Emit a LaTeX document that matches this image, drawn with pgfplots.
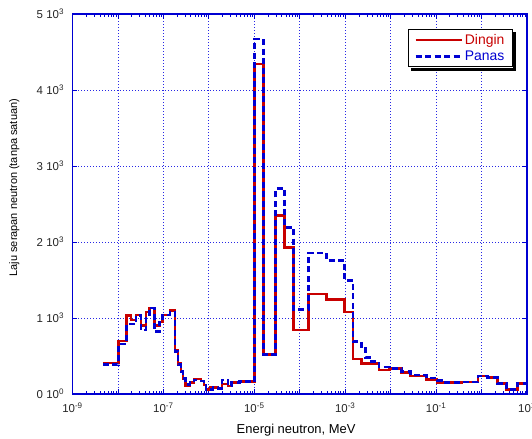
\documentclass[border=0pt]{standalone}
\usepackage{pgfplots}
\pgfplotsset{compat=1.18}
\usepackage{pgfplotstable}
\usepackage{fontspec}
\setmainfont{Liberation Sans}
\definecolor{myred}{RGB}{200,0,0}
\definecolor{myblue}{RGB}{0,0,210}
\definecolor{gridblue}{RGB}{40,40,230}

\pgfplotstableread{
L R B
-8.330 410 385
-7.993 700 660
-7.809 1030 920
-7.714 975 920
-7.604 1040 1030
-7.495 900 840
-7.385 1080 1040
-7.312 1130 1130
-7.202 900 820
-7.092 950 950
-7.018 1040 1040
-6.857 1100 1080
-6.747 570 560
-6.681 405 385
-6.615 295 295
-6.571 207 207
-6.512 115 125
-6.418 150 150
-6.330 195 185
-6.176 170 170
-6.110 119 119
-6.066 62 58
-5.978 88 60
-5.912 87 87
-5.802 80 75
-5.714 130 185
-5.582 105 105
-5.495 150 150
-5.319 162 162
-4.989 4340 4670
-4.791 520 520
-4.527 2348 2700
-4.330 1926 2194
-4.138 844 1108
-3.809 1315 1856
-3.407 1240 1755
-3.011 1080 1490
-2.829 460 690
-2.644 405 600
-2.549 405 484
-2.418 405 426
-2.257 317 355
-2.022 335 339
-1.758 281 294
-1.560 237 251
-1.209 194 210
-0.982 149 176
-0.886 150 150
-0.446 158 158
-0.081 237 237
0.132 220 220
0.352 141 141
0.549 62 62
0.791 141 141
1.000 141 141
}\data

\begin{document}
\begin{tikzpicture}
\begin{axis}[
  scale only axis, width=454.5bp, height=380bp,
  xmode=log, xmin=1e-9, xmax=10, ymin=0, ymax=5000,
  xtick={1e-9,1e-8,1e-7,1e-6,1e-5,1e-4,1e-3,1e-2,1e-1,1,10},
  xticklabels={10\textsuperscript{-9},{},10\textsuperscript{-7},{},10\textsuperscript{-5},{},10\textsuperscript{-3},{},10\textsuperscript{-1},{},10\textsuperscript{1}},
  ytick={0,1000,2000,3000,4000,5000},
  yticklabels={0 10\textsuperscript{0},1 10\textsuperscript{3},2 10\textsuperscript{3},3 10\textsuperscript{3},4 10\textsuperscript{3},5 10\textsuperscript{3}},
  minor y tick num=0,
  tick align=inside, xtick pos=both, ytick pos=both,
  axis line style={myblue, line width=1.2bp},
  every tick/.style={myblue, line width=0.7bp},
  major tick length=5bp, minor tick length=3bp,
  grid=major,
  major grid style={gridblue, dash pattern=on 1bp off 2bp, line width=0.8bp},
  tick label style={font=\fontsize{11.5}{12}\selectfont, text=black!85},
  yticklabel style={xshift=-5bp},
  xticklabel style={yshift=-5bp},
  xlabel={Energi neutron, MeV},
  ylabel={Laju serapan neutron (tanpa satuan)},
  xlabel style={font=\fontsize{13}{15}\selectfont, at={(axis description cs:0.492,-0.095)}, anchor=center},
  ylabel style={font=\fontsize{11}{13}\selectfont, at={(axis description cs:-0.128,0.543)}, anchor=center},
  legend style={name=leg, at={(0.969,0.961)}, anchor=north east, draw=black, line width=1bp, fill=white,
    font=\fontsize{14}{15}\selectfont,
    inner xsep=6bp, inner ysep=3bp, row sep=1bp},
  legend cell align=left,
  legend image code/.code={\draw[#1] (0bp,0bp) -- (46bp,0bp);},
]
\addplot[const plot mark left, myred, line width=2.6bp, mark=none]
  table[x expr={pow(10,\thisrow{L})}, y=R] {\data};
\addlegendentry{\textcolor{myred}{Dingin}}
\addplot[const plot mark left, myblue, line width=2.6bp, dash pattern=on 6bp off 3.5bp, mark=none]
  table[x expr={pow(10,\thisrow{L})}, y=B] {\data};
\addlegendentry{\textcolor{myblue}{Panas}}
\coordinate (O) at (rel axis cs:0,0);
\end{axis}
\fill[black] ([xshift=0.5bp,yshift=-3.5bp]leg.north east) rectangle ([xshift=3.5bp,yshift=-3.5bp]leg.south east);
\fill[black] ([xshift=3.5bp,yshift=-0.5bp]leg.south west) rectangle ([xshift=3.5bp,yshift=-3.5bp]leg.south east);
\pgfresetboundingbox
\path (O) ++(-72.5bp,-45bp) rectangle ++(532bp,439bp);
\end{tikzpicture}
\end{document}
